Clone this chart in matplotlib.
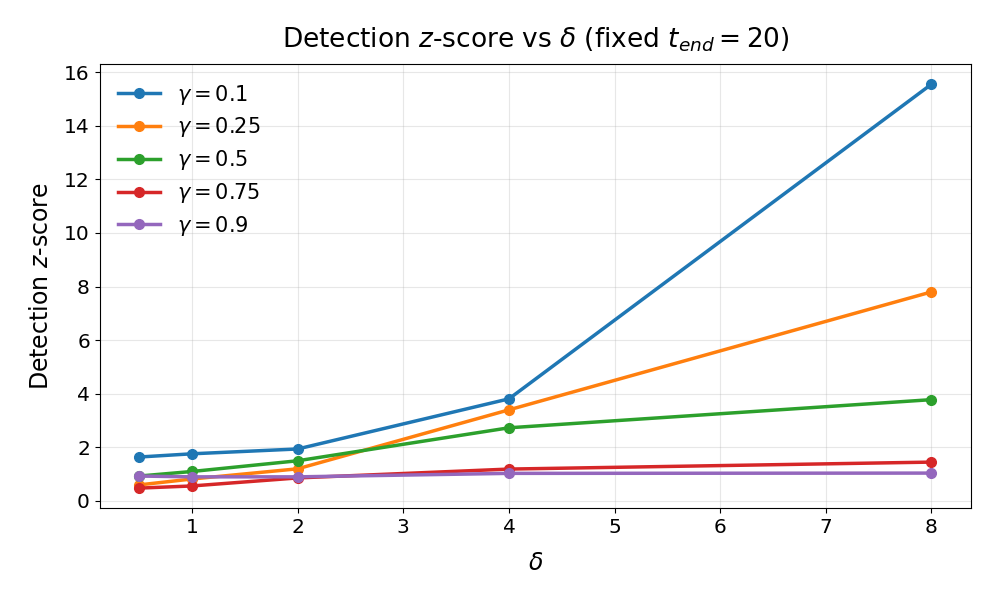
import numpy as np
import matplotlib
matplotlib.use('Agg')
import matplotlib.pyplot as plt

delta = [0.5, 1, 2, 4, 8]
gammas = ['0.1', '0.25', '0.5', '0.75', '0.9']
z_01 = [1.64, 1.76, 1.94, 3.81, 15.55]
z_025 = [0.60, 0.82, 1.20, 3.40, 7.80]
z_05 = [0.93, 1.10, 1.50, 2.73, 3.78]
z_075 = [0.48, 0.56, 0.86, 1.19, 1.45]
z_09 = [0.93, 0.90, 0.90, 1.03, 1.04]
series = [z_01, z_025, z_05, z_075, z_09]

fig, ax = plt.subplots(figsize=(9.96, 5.98), dpi=100)
for g, zs in zip(gammas, series):
    ax.plot(delta, zs, 'o-', lw=2.5, ms=7, label=rf'$\gamma = {g}$')
ax.set_xlabel(r'$\delta$', fontsize=17, labelpad=10)
ax.set_ylabel(r'Detection $z$-score', fontsize=17, labelpad=8)
ax.set_title(r'Detection $z$-score vs $\delta$ (fixed $t_{end} = 20$)', fontsize=19, pad=12)
ax.tick_params(labelsize=14.5)
ax.set_yticks(np.arange(0, 17, 2))
ax.grid(alpha=0.3)
ax.legend(fontsize=15, frameon=False, loc='upper left', labelspacing=0.42)
fig.subplots_adjust(left=0.1, right=0.975, top=0.893, bottom=0.15)
plt.savefig('out.png', dpi=100)
